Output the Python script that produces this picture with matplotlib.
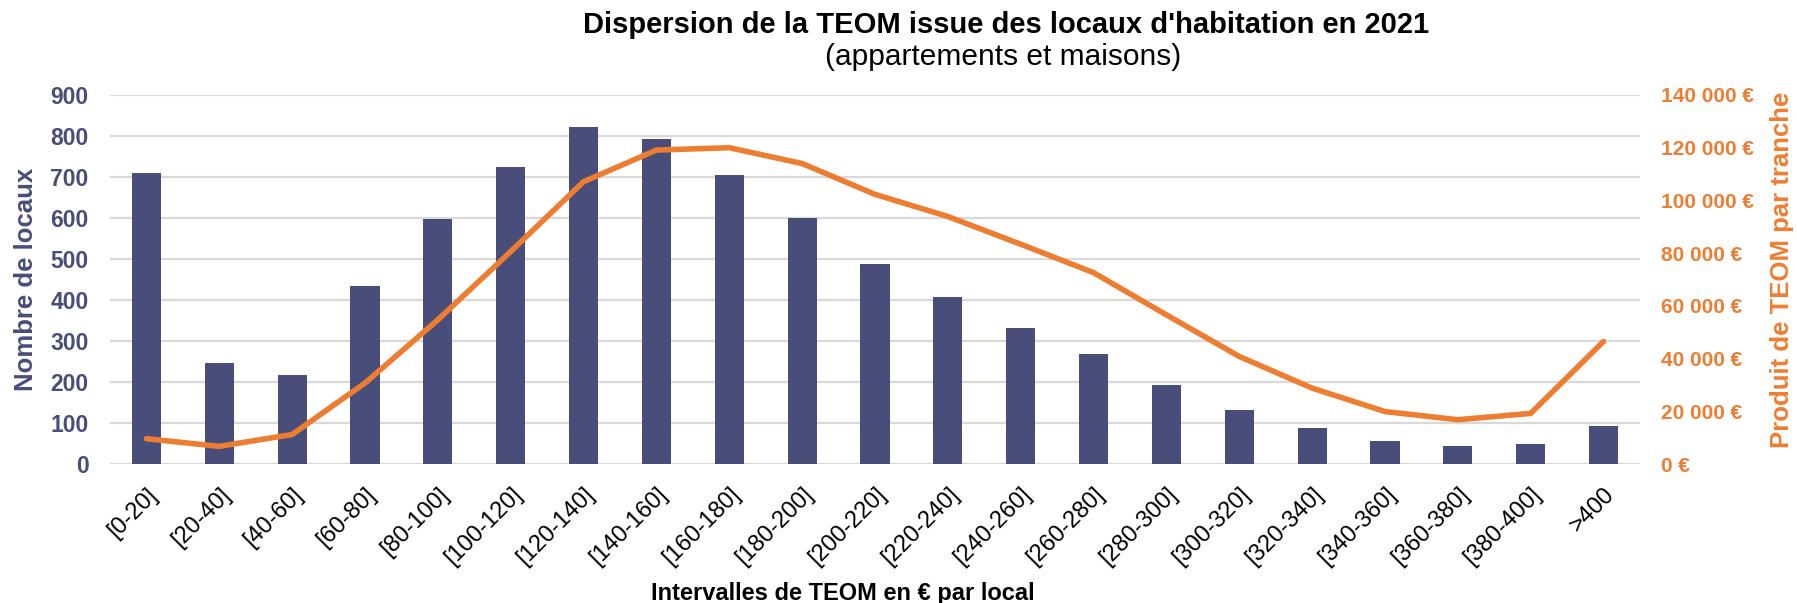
import numpy as np
import matplotlib.pyplot as plt
from matplotlib import font_manager

categories = ["[0-20]", "[20-40]", "[40-60]", "[60-80]", "[80-100]", "[100-120]",
              "[120-140]", "[140-160]", "[160-180]", "[180-200]", "[200-220]",
              "[220-240]", "[240-260]", "[260-280]", "[280-300]", "[300-320]",
              "[320-340]", "[340-360]", "[360-380]", "[380-400]", ">400"]
nb_locaux = [709, 246, 218, 434, 598, 724, 822, 793, 705, 600, 487,
             407, 332, 269, 192, 132, 87, 56, 44, 48, 93]
produit_teom = [9600, 6700, 11200, 30700, 54700, 80600, 107100, 119100, 120000,
                114000, 102300, 93900, 83400, 72600, 56600, 40800, 28800,
                19900, 16800, 19200, 46500]
right_ticks = list(range(0, 140001, 20000))

bar_color = "#494D7A"
line_color = "#ED7D31"
plt.rcParams['font.family'] = ['Liberation Sans', 'DejaVu Sans']

# the right axis labels are in a narrow face in the original
has_narrow = any(f.name == 'Liberation Sans Narrow' for f in font_manager.fontManager.ttflist)
right_family = 'Liberation Sans Narrow' if has_narrow else 'Liberation Sans'
right_size = 17.5 if has_narrow else 15

fig = plt.figure(figsize=(17.97, 6.03), dpi=100)
ax = fig.add_axes([0.0612, 0.2305, 0.8514, 0.612])
x = np.arange(len(categories))

ax.set_axisbelow(True)
ax.yaxis.grid(True, color="#D9D9D9", linewidth=1.6)
ax.bar(x, nb_locaux, width=0.4, color=bar_color, zorder=2)
ax.set_xlim(-0.5, len(categories) - 0.5)
ax.set_ylim(0, 900)
ax.set_yticks(np.arange(0, 901, 100))
ax.tick_params(axis='y', length=0, labelsize=16.5, labelcolor=bar_color, pad=15.5)
for lbl in ax.get_yticklabels():
    lbl.set_fontweight('bold')
ax.set_xticks(x)
ax.set_xticklabels(categories, rotation=45, ha='right', va='top',
                   rotation_mode='anchor', fontsize=17)
ax.tick_params(axis='x', length=0, pad=14)
for s in ax.spines.values():
    s.set_visible(False)

ax2 = ax.twinx()
ax2.plot(x, produit_teom, color=line_color, linewidth=4, solid_joinstyle='round',
         solid_capstyle='round', zorder=3)
ax2.set_ylim(0, 140000)
ax2.set_yticks(right_ticks)
ax2.set_yticklabels([f"{v:,}".replace(",", " ") + " €" for v in right_ticks],
                    family=right_family, fontweight='bold', fontsize=right_size,
                    color=line_color)
ax2.tick_params(axis='y', length=0, pad=15.5)
for s in ax2.spines.values():
    s.set_visible(False)

fig.text(0.560, 0.945, "Dispersion de la TEOM issue des locaux d'habitation en 2021",
         ha='center', va='baseline', fontsize=21, fontweight='bold')
fig.text(0.558, 0.892, "(appartements et maisons)", ha='center', va='baseline', fontsize=21.5)
fig.text(0.0145, 0.536, "Nombre de locaux", rotation=90, ha='center', va='center',
         fontsize=18.5, fontweight='bold', color=bar_color)
fig.text(0.9917, 0.553, "Produit de TEOM par tranche", rotation=90, ha='center', va='center',
         fontsize=18.5, fontweight='bold', color=line_color)
fig.text(0.469, 0.015, "Intervalles de TEOM en € par local", ha='center', va='center',
         fontsize=17, fontweight='bold')

fig.savefig("out.png", dpi=100)
